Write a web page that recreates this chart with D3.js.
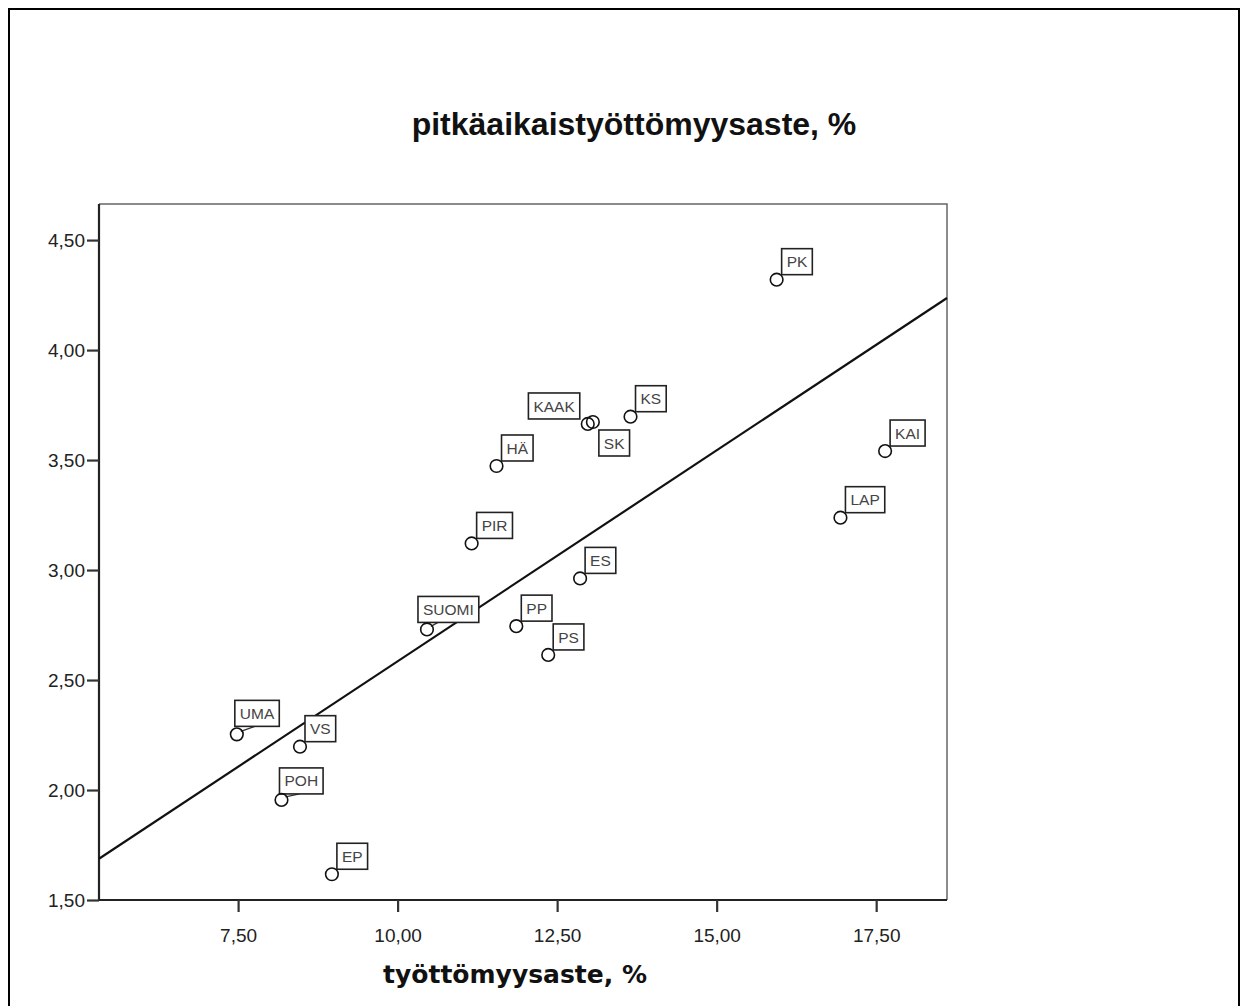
<!DOCTYPE html>
<html>
<head>
<meta charset="utf-8">
<script src="https://cdn.jsdelivr.net/npm/d3@7"></script>
<style>
  body { margin: 0; background: #fff; }
  svg { display: block; }
</style>
</head>
<body>
<script>
// data
const regions = ["PK", "KAAK", "SK", "KS", "HÄ", "PIR", "ES", "SUOMI", "PP", "PS", "UMA", "VS", "POH", "EP", "KAI", "LAP"];
const unemployment = [15.94, 12.98, 13.06, 13.65, 11.55, 11.16, 12.86, 10.46, 11.86, 12.36, 7.48, 8.47, 8.18, 8.97, 17.64, 16.94];
const longTermRate = [4.32, 3.664, 3.673, 3.697, 3.473, 3.121, 2.962, 2.730, 2.745, 2.614, 2.253, 2.197, 1.955, 1.617, 3.541, 3.238];

const xTicks = [7.5, 10, 12.5, 15, 17.5];
const yTicks = [1.5, 2, 2.5, 3, 3.5, 4, 4.5];

const chartTitle = "pitkäaikaistyöttömyysaste, %";
const xTitle = "työttömyysaste, %";

var W = 1248, H = 1006;
var plot = {left: 99, right: 947, top: 204, bottom: 900};

var fi = d3.formatLocale({decimal: ",", thousands: " ", grouping: [3], currency: ["", "€"]});
var fmt = fi.format(".2f");

var svg = d3.select("body").append("svg")
    .attr("width", W)
    .attr("height", H);

// outer frame
svg.append("rect")
    .attr("x", 9).attr("y", 9)
    .attr("width", 1230).attr("height", 1010)
    .attr("fill", "none")
    .attr("stroke", "#000")
    .attr("stroke-width", 2);

var x = d3.scaleLinear().domain([5.32, 18.61]).range([plot.left, plot.right]);
var y = d3.scaleLinear().domain([1.5, 4.664]).range([plot.bottom, plot.top]);

var points = regions.map(function(r, i) {
  return {name: r, x: unemployment[i], y: longTermRate[i]};
});

// top & right frame (lighter)
svg.append("path")
    .attr("d", "M" + plot.left + "," + plot.top + "H" + plot.right + "V" + plot.bottom)
    .attr("fill", "none")
    .attr("stroke", "#666")
    .attr("stroke-width", 1.5);

// axes
var yAxis = svg.append("g")
    .attr("transform", "translate(" + plot.left + ",0)")
    .call(d3.axisLeft(y).tickValues(yTicks).tickFormat(fmt).tickSize(12).tickPadding(2));
var xAxis = svg.append("g")
    .attr("transform", "translate(0," + plot.bottom + ")")
    .call(d3.axisBottom(x).tickValues(xTicks).tickFormat(fmt).tickSize(12).tickPadding(17));

[yAxis, xAxis].forEach(function(a) {
  a.select(".domain").attr("stroke", "#222").attr("stroke-width", 2.2);
  a.selectAll(".tick line").attr("stroke", "#333").attr("stroke-width", 2.2);
  a.selectAll(".tick text")
      .attr("font-family", "Arial, 'Liberation Sans', sans-serif")
      .attr("font-size", 19)
      .attr("fill", "#222");
});
yAxis.select(".domain").attr("d", "M0," + plot.top + "V" + plot.bottom);
xAxis.select(".domain").attr("d", "M" + plot.left + ",0H" + plot.right);

// least squares fit line
var mx = d3.mean(unemployment), my = d3.mean(longTermRate);
var sxy = d3.sum(unemployment, function(v, i) { return (v - mx) * (longTermRate[i] - my); });
var sxx = d3.sum(unemployment, function(v) { return (v - mx) * (v - mx); });
var slope = sxy / sxx, intercept = my - slope * mx;
var x0 = x.domain()[0], x1 = x.domain()[1];

svg.append("line")
    .attr("x1", x(x0)).attr("y1", y(intercept + slope * x0))
    .attr("x2", x(x1)).attr("y2", y(intercept + slope * x1))
    .attr("stroke", "#111")
    .attr("stroke-width", 2.2);

// point labels
var labelFont = 15.5, boxH = 26, pad = 5;
var placement = {
  KAAK: {mode: "nw", dx: -8, dy: -5},
  SK: {mode: "se", dx: 6, dy: 8},
  UMA: {mode: "lead", dx: -2, dy: -8},
  POH: {mode: "lead", dx: -2, dy: -6},
  SUOMI: {mode: "lead", dx: -9, dy: -7}
};

var labels = svg.append("g").selectAll("g")
    .data(points)
    .join("g");

labels.each(function(d) {
  var g = d3.select(this);
  var cx = x(d.x), cy = y(d.y);
  var p = placement[d.name] || {mode: "ne", dx: 5, dy: -5};
  var t = g.append("text")
      .attr("font-family", "Arial, 'Liberation Sans', sans-serif")
      .attr("font-size", labelFont)
      .attr("fill", "#444")
      .text(d.name);
  var bw = t.node().getComputedTextLength() + pad * 2;
  var bx, by;
  if (p.mode === "nw") { bx = cx + p.dx - bw; by = cy + p.dy - boxH; }
  else if (p.mode === "se") { bx = cx + p.dx; by = cy + p.dy; }
  else { bx = cx + p.dx; by = cy + p.dy - boxH; }

  if (p.mode === "lead") {
    g.insert("line", "text")
        .attr("x1", cx + 4).attr("y1", cy - 3)
        .attr("x2", bx + 20).attr("y2", by + boxH)
        .attr("stroke", "#333").attr("stroke-width", 1.4);
  }
  g.insert("rect", "text")
      .attr("x", bx).attr("y", by)
      .attr("width", bw).attr("height", boxH)
      .attr("fill", "#fff")
      .attr("stroke", "#222")
      .attr("stroke-width", 1.6);
  t.attr("x", bx + pad).attr("y", by + boxH / 2 + labelFont * 0.36);
});

// markers
svg.append("g").selectAll("circle")
    .data(points)
    .join("circle")
    .attr("cx", function(d) { return x(d.x); })
    .attr("cy", function(d) { return y(d.y); })
    .attr("r", 6.3)
    .attr("fill", "none")
    .attr("stroke", "#111")
    .attr("stroke-width", 1.6);

// titles
svg.append("text")
    .attr("x", 634).attr("y", 135)
    .attr("text-anchor", "middle")
    .attr("font-family", "Arial, 'Liberation Sans', sans-serif")
    .attr("font-weight", "bold")
    .attr("font-size", 32)
    .attr("fill", "#111")
    .text(chartTitle);

svg.append("text")
    .attr("x", 515).attr("y", 983)
    .attr("text-anchor", "middle")
    .attr("font-family", "'DejaVu Sans', sans-serif")
    .attr("font-weight", "bold")
    .attr("font-size", 25)
    .attr("fill", "#111")
    .text(xTitle);
</script>
</body>
</html>
